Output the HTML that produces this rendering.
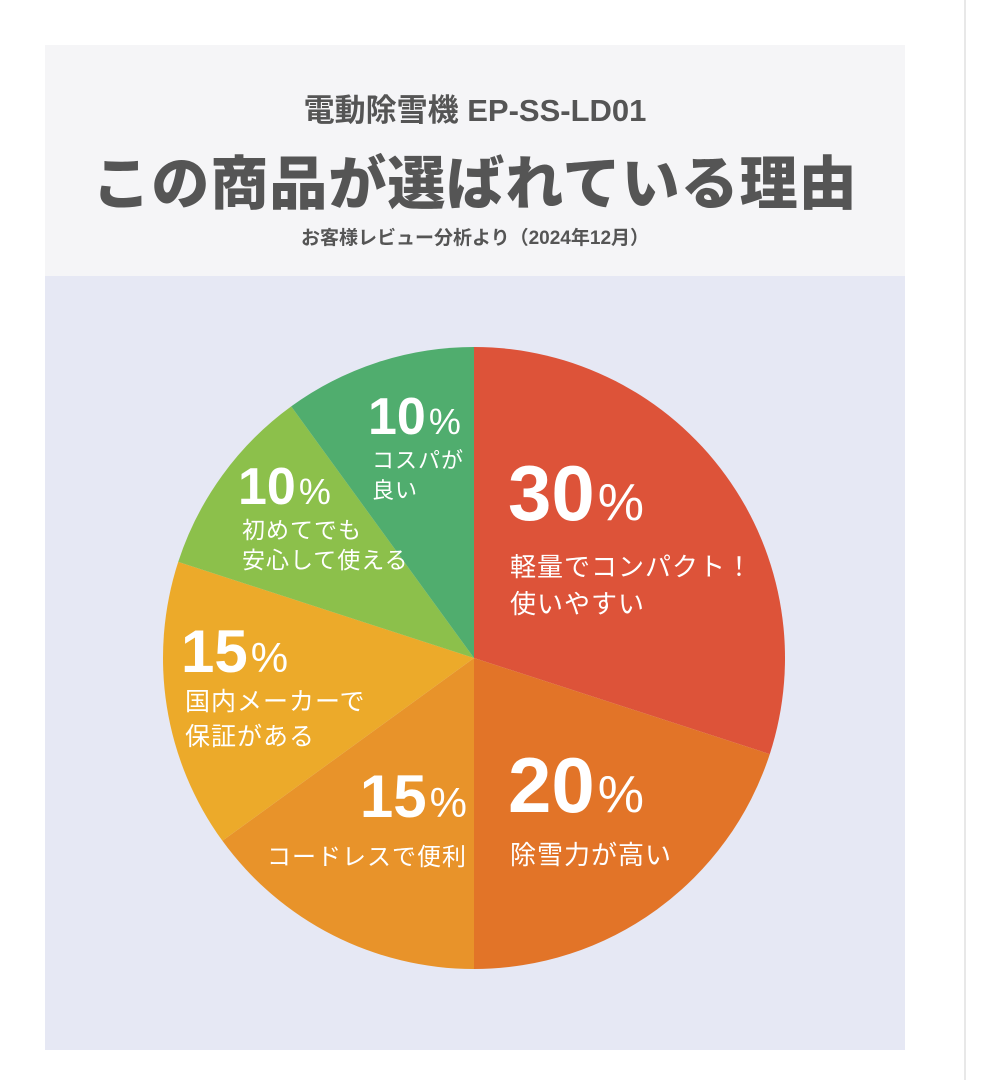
<!DOCTYPE html>
<html><head><meta charset="utf-8">
<style>
html,body{margin:0;padding:0;background:#fff;}
body{width:981px;height:1080px;position:relative;overflow:hidden;font-family:"Liberation Sans","Noto Sans CJK JP",sans-serif;}
#card{position:absolute;left:45px;top:45px;width:860px;height:1005px;background:#e6e8f4;}
#header{position:absolute;left:0;top:0;width:860px;height:231px;background:#f5f5f7;text-align:center;color:#555;}
.t1{position:absolute;left:0;width:860px;top:40px;font-size:31px;font-weight:bold;}
.t2{position:absolute;left:0;width:860px;top:92px;font-size:58px;font-weight:900;letter-spacing:1px;color:#555;}
.t3{position:absolute;left:0;width:860px;top:178px;font-size:19px;font-weight:bold;}
#rline{position:absolute;left:964px;top:0;width:2px;height:1080px;background:#e8e8e8;}
svg{position:absolute;left:0;top:0;}
</style></head>
<body>
<div id="card">
  <div id="header">
    <div class="t1">電動除雪機 EP-SS-LD01</div>
    <div class="t2">この商品が選ばれている理由</div>
    <div class="t3">お客様レビュー分析より（2024年12月）</div>
  </div>
</div>
<div id="rline"></div>
<svg id="chart" width="981" height="1080"></svg>
<script>
const categories = ["軽量でコンパクト！|使いやすい","除雪力が高い","コードレスで便利","国内メーカーで|保証がある","初めてでも|安心して使える","コスパが|良い"];
const values = [30,20,15,15,10,10];
const colors = ["#dd5339","#e27428","#e8932a","#ecaa2a","#8cc04b","#50ad6e"];
// label layout: [x, y of percent baseline, anchor, big size, small size, text size, first gap, line gap]
const labelLayout = [
  [508,520,"start",78,52,26,56,37],
  [508,812,"start",78,52,26,52,37],
  [467,817,"end",60,42,24,48,0],
  [181,672,"start",60,42,25,38,35],
  [238,504,"start",52,36,23,34,30],
  [368,434,"start",52,36,22,34,30]
];
const cx=474, cy=658, r=311;
const svg=document.getElementById('chart');
const NS='http://www.w3.org/2000/svg';
const total=values.reduce((a,b)=>a+b,0);
function pt(frac){const a=frac*2*Math.PI;return [cx+r*Math.sin(a),cy-r*Math.cos(a)];}
let acc=0;
values.forEach((v,i)=>{
  const s=pt(acc/total), e=pt((acc+v)/total);
  const large=v/total>0.5?1:0;
  const p=document.createElementNS(NS,'path');
  p.setAttribute('d',`M${cx},${cy} L${s[0]},${s[1]} A${r},${r} 0 ${large} 1 ${e[0]},${e[1]} Z`);
  p.setAttribute('fill',colors[i]);
  
  
  svg.appendChild(p);
  acc+=v;
});
values.forEach((v,i)=>{
  const L=labelLayout[i];
  const t=document.createElementNS(NS,'text');
  t.setAttribute('x',L[0]);t.setAttribute('y',L[1]);
  t.setAttribute('text-anchor',L[2]);
  t.setAttribute('fill','#fff');
  t.setAttribute('font-family','"Liberation Sans","Noto Sans CJK JP",sans-serif');
  
  
  const a=document.createElementNS(NS,'tspan');
  a.setAttribute('font-size',L[3]);a.setAttribute('font-weight','bold');
  a.textContent=String(v);
  const b=document.createElementNS(NS,'tspan');
  b.setAttribute('font-size',L[4]);
  b.setAttribute('dx','3');
  b.textContent='%';
  t.appendChild(a);t.appendChild(b);
  svg.appendChild(t);
  const lines=categories[i].split('|');
  lines.forEach((ln,j)=>{
    const tt=document.createElementNS(NS,'text');
    tt.setAttribute('x',L[2]==='end'?L[0]:L[0]+(i>=3?4:2));
    tt.setAttribute('y',L[1]+L[6]+j*L[7]);
    tt.setAttribute('text-anchor',L[2]);
    tt.setAttribute('fill','#fff');
    tt.setAttribute('font-size',L[5]);
    tt.setAttribute('letter-spacing','1');
    tt.setAttribute('font-family','"Liberation Sans","Noto Sans CJK JP",sans-serif');
    
    
    tt.textContent=ln;
    svg.appendChild(tt);
  });
});
</script>
</body></html>
